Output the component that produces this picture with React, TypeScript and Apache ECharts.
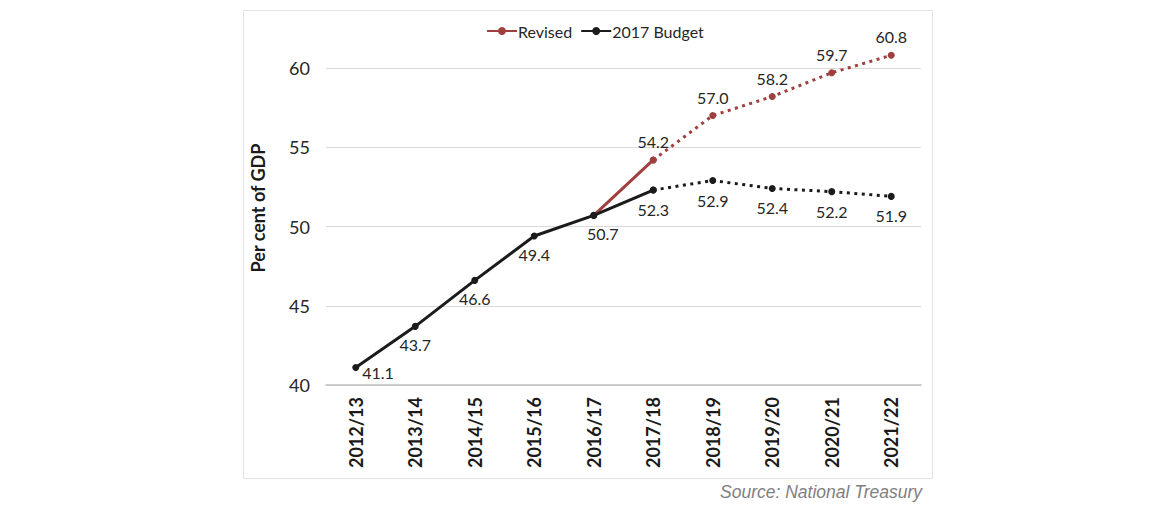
import React, { useEffect, useRef } from "react";
import * as echarts from "echarts";

const categories = ["2012/13", "2013/14", "2014/15", "2015/16", "2016/17", "2017/18", "2018/19", "2019/20", "2020/21", "2021/22"];
const budgetActual = [41.1, 43.7, 46.6, 49.4, 50.7, 52.3, null, null, null, null];
const budgetProjected = [null, null, null, null, null, 52.3, 52.9, 52.4, 52.2, 51.9];
const revisedActual = [null, null, null, null, 50.7, 54.2, null, null, null, null];
const revisedProjected = [null, null, null, null, null, 54.2, 57.0, 58.2, 59.7, 60.8];
const yTicks = [40, 45, 50, 55, 60];

const RED = "#A0403E";
const BLACK = "#1b1b1b";
const FONT = "Lato, 'Noto Sans', sans-serif";

const toData = (arr: (number | null)[]) => arr.map((v) => (v == null ? "-" : v));

export default function App() {
  const ref = useRef<HTMLDivElement>(null);
  useEffect(() => {
    if (!ref.current) return;
    const chart = echarts.init(ref.current, null, { renderer: "svg" });
    const labelBase = { show: true, color: "#262626", fontSize: 16, fontFamily: FONT, formatter: (p: any) => Number(p.value).toFixed(1) };

    const budgetActualData = budgetActual.map((v, i) => {
      if (v == null) return "-";
      const item: any = { value: v };
      if (i === 0) item.label = { ...labelBase, position: "right", distance: 3, offset: [0, 5] };
      else if (i === 4) item.label = { ...labelBase, position: "bottom", distance: 7, offset: [9, 0] };
      else if (i === 5) item.label = { show: false };
      else item.label = { ...labelBase, position: "bottom", distance: 7 };
      return item;
    });

    const option: any = {
      animation: false,
      grid: { left: 326, right: 249, top: 68, bottom: 124 },
      legend: {
        top: 18,
        left: 481,
        itemWidth: 30,
        itemHeight: 10,
        itemGap: 8,
        textStyle: { fontSize: 16, fontFamily: FONT, color: "#262626", padding: [0, 0, 0, -4] },
        data: ["Revised", "2017 Budget"],
      },
      xAxis: {
        type: "category",
        data: categories,
        boundaryGap: true,
        axisLine: { lineStyle: { color: "#bfbfbf", width: 1.5 } },
        axisTick: { show: false },
        axisLabel: { rotate: 90, margin: 12, fontSize: 18, fontWeight: "bold", fontFamily: FONT, color: "#1a1a1a" },
      },
      yAxis: {
        type: "value",
        min: yTicks[0],
        max: yTicks[yTicks.length - 1],
        interval: 5,
        axisLine: { show: false },
        axisTick: { show: false },
        splitLine: { lineStyle: { color: "#d9d9d9", width: 1 } },
        axisLabel: { fontSize: 18, fontFamily: FONT, color: "#262626", margin: 16 },
      },
      graphic: [
        { type: "rect", shape: { x: 243.5, y: 10.5, width: 689, height: 468 }, style: { fill: "none", stroke: "#e3e3e3", lineWidth: 1 }, silent: true },
        { type: "text", x: 258, y: 208, rotation: Math.PI / 2, style: { text: "Per cent of GDP", fontSize: 18, fontWeight: "bold", fontFamily: FONT, fill: "#1a1a1a", align: "center", verticalAlign: "middle" } },
        { type: "text", right: 248, top: 483, style: { text: "Source: National Treasury", fontSize: 17.5, fontStyle: "italic", fontFamily: "'Liberation Sans', Arial, sans-serif", fill: "#808080" } },
      ],
      series: [
        {
          name: "Revised",
          type: "line",
          data: toData(revisedActual),
          symbol: "circle",
          symbolSize: 7,
          clip: false,
          z: 3,
          itemStyle: { color: RED },
          lineStyle: { color: RED, width: 3 },
          label: { show: false },
        },
        {
          name: "Revised",
          type: "line",
          data: toData(revisedProjected),
          symbol: "circle",
          symbolSize: 7,
          clip: false,
          z: 3,
          itemStyle: { color: RED },
          lineStyle: { color: RED, width: 3, type: [3, 4.5] },
          label: { ...labelBase, position: "top", distance: 7 },
        },
        {
          name: "2017 Budget",
          type: "line",
          data: budgetActualData,
          symbol: "circle",
          symbolSize: 7,
          clip: false,
          z: 4,
          itemStyle: { color: BLACK },
          lineStyle: { color: BLACK, width: 3 },
        },
        {
          name: "2017 Budget",
          type: "line",
          data: toData(budgetProjected),
          symbol: "circle",
          symbolSize: 7,
          clip: false,
          z: 4,
          itemStyle: { color: BLACK },
          lineStyle: { color: BLACK, width: 3, type: [3, 4.5] },
          label: { ...labelBase, position: "bottom", distance: 8 },
        },
      ],
    };
    chart.setOption(option);
    return () => chart.dispose();
  }, []);
  return <div ref={ref} style={{ position: "fixed", left: 0, top: 0, width: 1170, height: 509, background: "#fff" }} />;
}
